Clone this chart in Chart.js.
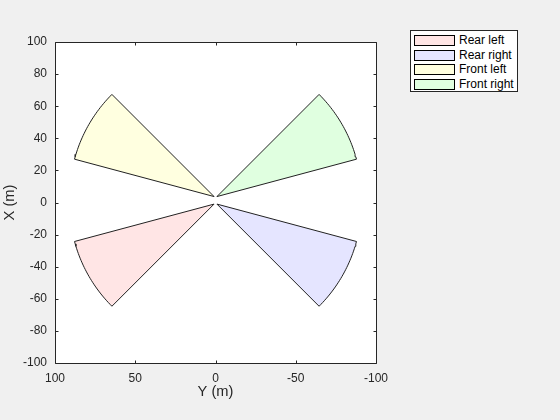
<!DOCTYPE html>
<html>
<head>
<meta charset="utf-8">
<script src="https://cdn.jsdelivr.net/npm/chart.js@4"></script>
<style>
  html, body { margin: 0; padding: 0; background: #f0f0f0; }
  #wrap { position: relative; width: 560px; height: 420px; }
  #legend {
    position: absolute; left: 410px; top: 30px; width: 106px; height: 60px;
    background: #fff; border: 1px solid #262626;
    font: 12px Arial, "Liberation Sans", sans-serif; color: #000;
  }
  .item { position: absolute; left: 3px; height: 11px; line-height: 11px; white-space: nowrap; }
  .sw { display: inline-block; width: 39px; height: 9px; border: 1px solid #000; vertical-align: top; margin-right: 4px; }
</style>
</head>
<body>
<div id="wrap">
  <canvas id="chart" width="560" height="420"></canvas>
  <div id="legend"></div>
</div>
<script>
// sensor coverage areas (vehicle frame, X forward, Y left)
const sensorNames = ['Rear left', 'Rear right', 'Front left', 'Front right'];
const mountX = [-1, -1, 3.7, 3.7];
const mountY = [0.9, -0.9, 0.9, -0.9];
const yawDeg = [120, -120, 60, -60];
const fovDeg = [30, 30, 30, 30];
const maxRange = [90, 90, 90, 90];
const fillColors = ['rgba(255,0,0,0.1)', 'rgba(0,0,255,0.1)', 'rgba(255,255,0,0.12)', 'rgba(0,255,0,0.12)'];

const xTicks = [100, 50, 0, -50, -100];
const yTicks = [100, 80, 60, 40, 20, 0, -20, -40, -60, -80, -100];

// outline of a sector: mount point, arc, back to mount point
function sectorOutline(i) {
  const pts = [{ x: mountY[i], y: mountX[i] }];
  const a0 = yawDeg[i] - fovDeg[i] / 2;
  for (let k = 0; k <= 30; k++) {
    const a = (a0 + fovDeg[i] * k / 30) * Math.PI / 180;
    pts.push({ x: mountY[i] + maxRange[i] * Math.sin(a), y: mountX[i] + maxRange[i] * Math.cos(a) });
  }
  pts.push({ x: mountY[i], y: mountX[i] });
  return pts;
}

const datasets = sensorNames.map((name, i) => ({
  label: name,
  data: sectorOutline(i),
  showLine: true,
  fill: 'shape',
  backgroundColor: fillColors[i],
  borderColor: '#222',
  borderWidth: 1,
  pointRadius: 0,
  tension: 0
}));

const axisColor = '#262626';
const font = { family: 'Arial, "Liberation Sans", sans-serif', size: 12 };
const titleFont = { family: font.family, size: 14.67 };

// white plot area, then box and inward ticks on all sides
const boxPlugin = {
  id: 'box',
  beforeDraw(chart) {
    const a = chart.chartArea, ctx = chart.ctx;
    ctx.save();
    ctx.fillStyle = '#fff';
    ctx.fillRect(a.left, a.top, a.right - a.left, a.bottom - a.top);
    ctx.restore();
  },
  afterDraw(chart) {
    const a = chart.chartArea, ctx = chart.ctx;
    const xs = chart.scales.x, ys = chart.scales.y;
    const L = Math.round(a.left) + 0.5, R = Math.round(a.right) + 0.5;
    const T = Math.round(a.top) + 0.5, B = Math.round(a.bottom) + 0.5;
    ctx.save();
    ctx.strokeStyle = axisColor;
    ctx.lineWidth = 1;
    ctx.beginPath();
    ctx.rect(L, T, R - L, B - T);
    xTicks.forEach(v => {
      const px = Math.round(xs.getPixelForValue(v)) + 0.5;
      ctx.moveTo(px, B); ctx.lineTo(px, B - 3);
      ctx.moveTo(px, T); ctx.lineTo(px, T + 3);
    });
    yTicks.forEach(v => {
      const py = Math.round(ys.getPixelForValue(v)) + 0.5;
      ctx.moveTo(L, py); ctx.lineTo(L + 3, py);
      ctx.moveTo(R, py); ctx.lineTo(R - 3, py);
    });
    ctx.stroke();
    ctx.restore();
  }
};

new Chart(document.getElementById('chart'), {
  type: 'scatter',
  data: { datasets },
  options: {
    responsive: false,
    animation: false,
    layout: { padding: { left: 0, top: 42, right: 184, bottom: 15 } },
    plugins: { legend: { display: false }, tooltip: { enabled: false } },
    scales: {
      x: {
        type: 'linear', reverse: true, min: -100, max: 100,
        afterBuildTicks(s) { s.ticks = xTicks.map(v => ({ value: v })); },
        afterFit(s) { s.height = 42; },
        grid: { display: false },
        border: { display: false },
        ticks: { color: axisColor, font, padding: 0, maxRotation: 0, autoSkip: false },
        title: { display: true, text: 'Y (m)', color: axisColor, font: titleFont, padding: 4 }
      },
      y: {
        type: 'linear', min: -100, max: 100,
        afterBuildTicks(s) { s.ticks = yTicks.map(v => ({ value: v })); },
        afterFit(s) { s.width = 55; },
        grid: { display: false },
        border: { display: false },
        ticks: { color: axisColor, font, padding: 0, autoSkip: false },
        title: { display: true, text: 'X (m)', color: axisColor, font: titleFont, padding: 1 }
      }
    }
  },
  plugins: [boxPlugin]
});

// legend
const leg = document.getElementById('legend');
sensorNames.forEach((name, i) => {
  const row = document.createElement('div');
  row.className = 'item';
  row.style.top = (4 + i * 14.5) + 'px';
  row.innerHTML = '<span class="sw" style="background:' + fillColors[i] + '"></span>' + name;
  leg.appendChild(row);
});
</script>
</body>
</html>
